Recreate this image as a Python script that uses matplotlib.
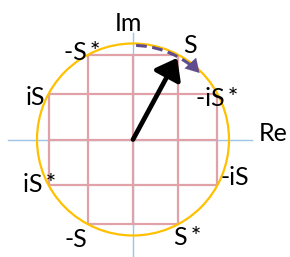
"""Phasor diagram: S and its conjugate/rotated images on the unit circle."""
import matplotlib
matplotlib.use("Agg")
import matplotlib.pyplot as plt
from matplotlib.patches import Circle, Arc

plt.rcParams["font.family"] = ["Lato", "DejaVu Sans"]

# S = a + ib (unit magnitude)
S_RE = 0.47
S_IM = 0.88

# the eight images of S and their labels
POINT_NAMES = ["S", "-S\u2009*", "iS", "-iS\u2009*", "iS\u2009*", "-iS", "-S",
               "S\u2009*"]
POINT_RE = [S_RE, -S_RE, -S_IM, S_IM, -S_IM, S_IM, -S_RE, S_RE]
POINT_IM = [S_IM, S_IM, S_RE, S_RE, -S_RE, -S_RE, -S_IM, -S_IM]

# label placement (offset from the point, baseline anchored)
LABEL_DX = [0.12, -0.06, -0.136, 0.0, -0.09, 0.18, -0.12, 0.10]
LABEL_DY = [0.02, -0.05, -0.11, -0.12, -0.077, 0.0, -0.24, -0.22]

GRID = "#E0A2A8"
AXIS = "#9DC3E6"
RING = "#FFC000"
ROT = "#5E4C8E"
FS = 18

fig = plt.figure(figsize=(2.90, 2.57), dpi=100)
ax = fig.add_axes([0, 0, 1, 1])
ax.set_xlim(-133 / 96, 157 / 96)
ax.set_ylim(-117.5 / 96, 139.5 / 96)
ax.set_axis_off()

# axes
ax.plot([-1.30, 1.24], [0, 0], color=AXIS, lw=1.0, zorder=1)
ax.plot([0, 0], [-1.25, 1.11], color=AXIS, lw=1.0, zorder=1)
ax.text(1.31, -0.015, "Re", fontsize=FS, ha="left", va="baseline")
ax.text(-0.052, 1.13, "Im", fontsize=FS, ha="center", va="baseline")

# cross-shaped grid through the points
for x, half in [(0, S_IM), (S_RE, S_IM), (-S_RE, S_IM), (S_IM, S_RE), (-S_IM, S_RE)]:
    ax.plot([x, x], [-half, half], color=GRID, lw=1.6, zorder=2,
            solid_capstyle="butt")
    ax.plot([-half, half], [x, x], color=GRID, lw=1.6, zorder=2,
            solid_capstyle="butt")

ax.add_patch(Circle((0, 0), 1.0, fill=False, ec=RING, lw=1.6, zorder=3))

# rotation hint
ax.add_patch(Arc((0, 0), 1.96, 1.96, theta1=52, theta2=90, color=ROT,
                 lw=2.2, ls=(0, (3.5, 1.8)), zorder=4))
ax.annotate("", xy=(0.98 * 0.707, 0.98 * 0.707),
            xytext=(0.98 * 0.70 - 0.07, 0.98 * 0.72 + 0.07),
            arrowprops=dict(arrowstyle="-|>,head_length=0.6,head_width=0.35",
                            color=ROT, lw=0.1, mutation_scale=16,
                            shrinkA=0, shrinkB=0), zorder=4)

# phasor S
ax.annotate("", xy=(S_RE - 0.01, S_IM - 0.03), xytext=(0, 0),
            arrowprops=dict(arrowstyle="-|>,head_length=0.6,head_width=0.45",
                            color="black", lw=3.4, mutation_scale=20,
                            shrinkA=0, shrinkB=0), zorder=5)

for name, x, y, dx, dy in zip(POINT_NAMES, POINT_RE, POINT_IM, LABEL_DX, LABEL_DY):
    ax.text(x + dx, y + dy, name, fontsize=FS, ha="center", va="baseline",
            zorder=6)

fig.savefig("out.png", dpi=100)
